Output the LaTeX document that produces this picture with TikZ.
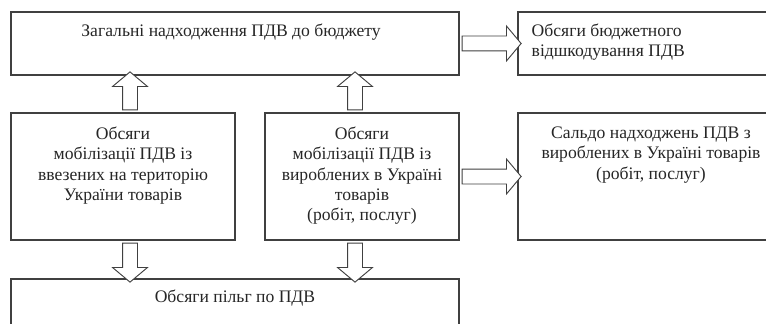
\documentclass[tikz,border=0pt]{standalone}
\usepackage{fontspec}
\setmainfont{Liberation Serif}
\usetikzlibrary{calc,shapes.arrows}

\definecolor{linegray}{gray}{0.25}
\definecolor{textgray}{gray}{0.15}

\tikzset{
	box/.style={draw=linegray, line width=0.8pt, inner sep=0pt, fill=white},
	boxtext/.style={text=textgray, inner sep=0pt, align=center, font=\fontsize{13.2}{15.3}\selectfont},
	bigarr/.style={single arrow, draw=linegray, line width=0.7pt, fill=white, inner sep=0pt, inner ysep=5.25pt,
		single arrow head extend=7.5pt, single arrow tip angle=100, single arrow head indent=0pt}
}

\begin{document}
\begin{tikzpicture}[x=0.75pt, y=-0.75pt]
			%%%%% START %%%%%
			
			\useasboundingbox (0,0) rectangle (766,324);
			\clip (0,0) rectangle (766,324);
			\fill[white] (0,0) rectangle (766,324);
			
			% boxes
			\node[box, minimum width=336pt, minimum height=47.25pt] (total) at (235, 43.5) {};
			\node[box, minimum width=204pt, minimum height=47.25pt] (refund) at (654, 43.5) {};
			\node[box, minimum width=168pt, minimum height=95.25pt] (import) at (123, 176.5) {};
			\node[box, minimum width=145.5pt, minimum height=95.25pt] (domestic) at (362, 176.5) {};
			\node[box, minimum width=204pt, minimum height=95.25pt] (saldo) at (654, 176.5) {};
			\node[box, minimum width=336pt, minimum height=60pt] (relief) at (235, 319) {};
			
			% texts
			\node[boxtext, anchor=north] (totalT) at ($(total.north)+(-4,12)$) {Загальні надходження ПДВ до бюджету};
			\node[boxtext, anchor=north west, align=left] (refundT) at ($(refund.north west)+(14,12)$) {Обсяги бюджетного\\відшкодування ПДВ};
			\node[boxtext, anchor=north] (importT) at ($(import.north)+(0,14)$) {Обсяги\\мобілізації ПДВ із\\ввезених на територію\\України товарів};
			\node[boxtext, anchor=north] (domesticT) at ($(domestic.north)+(0,14)$) {Обсяги\\мобілізації ПДВ із\\вироблених в Україні\\товарів\\(робіт, послуг)};
			\node[boxtext, anchor=north] (saldoT) at ($(saldo.north)+(-3,14)$) {Сальдо надходжень ПДВ з\\вироблених в Україні товарів\\(робіт, послуг)};
			\node[boxtext, anchor=north] (reliefT) at ($(relief.north)+(0,11)$) {Обсяги пільг по ПДВ};
			
			% block arrows
			\node[bigarr, rotate=90, minimum height=28.5pt] (upImp) at ($(import.north)!0.5!(total.south -| import.north)+(7,0)$) {};
			\node[bigarr, rotate=90, minimum height=28.5pt] (upDom) at ($(domestic.north)!0.5!(total.south -| domestic.north)+(-7,0)$) {};
			\node[bigarr, rotate=-90, minimum height=29.25pt] (downImp) at ($(import.south)!0.5!(relief.north -| import.south)+(7,0)$) {};
			\node[bigarr, rotate=-90, minimum height=29.25pt] (downDom) at ($(domestic.south)!0.5!(relief.north -| domestic.south)+(-7,0)$) {};
			\node[bigarr, minimum height=44.25pt] (toRefund) at ($(total.east)!0.5!(refund.west)$) {};
			\node[bigarr, minimum height=44.25pt] (toSaldo) at ($(domestic.east)!0.5!(saldo.west)$) {};
			
			%%%%% END %%%%%
\end{tikzpicture}
\end{document}
